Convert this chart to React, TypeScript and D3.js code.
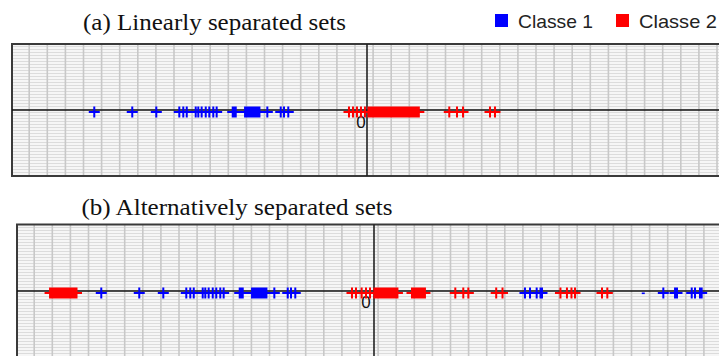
import React from "react";
import * as d3 from "d3";

// ---- Data ----
const classe1A: number[] = [
  -3.073, -2.645, -2.374,
  -2.115, -2.070, -2.031,
  -1.930, -1.901, -1.863, -1.817, -1.777, -1.732, -1.694,
  -1.513, -1.496, -1.479,
  -1.374, -1.360, -1.342, -1.331, -1.312, -1.296, -1.281, -1.262, -1.249, -1.236, -1.223, -1.212,
  -1.123, -0.972, -0.935, -0.887,
];
const classe2A: number[] = [
  -0.203, -0.158, -0.113, -0.068, -0.023,
  0.017, 0.031, 0.048, 0.062, 0.079, 0.093, 0.108, 0.126, 0.140, 0.155, 0.171, 0.188,
  0.203, 0.217, 0.234, 0.250, 0.266, 0.281, 0.297, 0.314, 0.329, 0.345, 0.362, 0.378,
  0.393, 0.409, 0.426, 0.441, 0.457, 0.473, 0.490, 0.505, 0.521, 0.538, 0.553, 0.569, 0.584,
  0.927, 1.014, 1.082, 1.386, 1.442,
];
const classe1B: number[] = [
  ...classe1A,
  1.701, 1.758, 1.833, 1.876, 1.893,
  3.260, 3.392, 3.414, 3.580, 3.617, 3.673, 3.692,
];
const classe1BFaint: number[] = [3.034];
const classe2B: number[] = [
  -3.650, -3.634, -3.617, -3.600, -3.584, -3.566, -3.551, -3.533, -3.518, -3.500,
  -3.484, -3.467, -3.451, -3.433, -3.417, -3.401, -3.384, -3.368, -3.352,
  -0.248, -0.203, -0.139, -0.090, -0.045,
  0.004, 0.020, 0.037, 0.053, 0.070, 0.086, 0.103, 0.119, 0.136, 0.152, 0.169, 0.185,
  0.202, 0.218, 0.235, 0.251, 0.264,
  0.428, 0.444, 0.461, 0.477, 0.494, 0.510, 0.527, 0.543, 0.560, 0.574,
  0.916, 1.006, 1.063, 1.377, 1.448,
  2.101, 2.174, 2.225, 2.265, 2.569, 2.629,
];
const titles = ["(a) Linearly separated sets", "(b) Alternatively separated sets"];
const legendLabels = ["Classe 1", "Classe 2"];
const xDomain: [number, number] = [-4, 4];

const BLUE = "#0000ff";
const RED = "#ff0000";

type PanelProps = {
  left: number;
  top: number;
  bottom: number;
  rangeStart: number;
  axisY: number;
  blue: number[];
  red: number[];
  faint?: number[];
  title: string;
  titleX: number;
  titleY: number;
  titleLen: number;
  zeroX: number;
  zeroY: number;
};

function plus(x: number, y: number, h = 5.5) {
  return `M${x - h},${y}H${x + h}M${x},${y - h}V${y + h}`;
}

function Panel(p: PanelProps) {
  const right = 740;
  const x = d3.scaleLinear().domain(xDomain).range([p.rangeStart, p.rangeStart + 710]);
  const hLines = d3.range(p.top + 2.5, p.bottom, 3);
  const vLines = d3.range(p.left + 17.2, right, 18.1);
  const my = p.axisY + 2;
  return (
    <g>
      <text
        x={p.titleX}
        y={p.titleY}
        textLength={p.titleLen}
        lengthAdjust="spacingAndGlyphs"
        fontFamily="'Liberation Serif', 'Times New Roman', serif"
        fontSize={23}
        fill="#111"
      >
        {p.title}
      </text>
      <rect x={p.left} y={p.top} width={right - p.left} height={p.bottom - p.top} fill="#f6f6f6" />
      {hLines.map((y, i) => (
        <line key={"h" + i} x1={p.left} x2={right} y1={y} y2={y} stroke="#dcdcdc" strokeWidth={1} shapeRendering="crispEdges" />
      ))}
      {vLines.map((vx, i) => (
        <line key={"v" + i} x1={vx} x2={vx} y1={p.top} y2={p.bottom} stroke="#c8c8c8" strokeWidth={1.6} />
      ))}
      <rect x={p.left} y={p.top} width={right - p.left} height={p.bottom - p.top} fill="none" stroke="#3a3a3a" strokeWidth={2} />
      <line x1={p.left} x2={right} y1={p.axisY} y2={p.axisY} stroke="#111" strokeWidth={1.6} />
      <line x1={x(0)} x2={x(0)} y1={p.top} y2={p.bottom} stroke="#222" strokeWidth={1.6} />
      <text x={p.zeroX} y={p.zeroY} textAnchor="middle" fontFamily="'Liberation Sans', Arial, sans-serif" fontSize={17} fill="#111">
        0
      </text>
      <path d={p.blue.map((v) => plus(x(v), my)).join("")} stroke={BLUE} strokeWidth={2} fill="none" />
      <path d={p.red.map((v) => plus(x(v), my)).join("")} stroke={RED} strokeWidth={2} fill="none" />
      {(p.faint || []).map((v, i) => (
        <rect key={"f" + i} x={x(v) - 1.5} y={my - 0.5} width={3} height={1.6} fill={BLUE} />
      ))}
    </g>
  );
}

export default function App() {
  return (
    <svg width={719} height={356} style={{ position: "absolute", left: 0, top: 0, background: "#fff" }}>
      <rect x={0} y={0} width={719} height={356} fill="#ffffff" />
      <Panel
        left={12}
        top={44}
        bottom={176}
        rangeStart={12}
        axisY={110}
        blue={classe1A}
        red={classe2A}
        title={titles[0]}
        titleX={83}
        titleY={30}
        titleLen={263}
        zeroX={361}
        zeroY={128}
      />
      <Panel
        left={17}
        top={224.5}
        bottom={370}
        rangeStart={19}
        axisY={291}
        blue={classe1B}
        red={classe2B}
        faint={classe1BFaint}
        title={titles[1]}
        titleX={81.5}
        titleY={215}
        titleLen={311}
        zeroX={366}
        zeroY={308}
      />
      <g fontFamily="'Liberation Sans', Arial, sans-serif" fontSize={19} fill="#222">
        <rect x={495} y={14} width={13} height={13} fill={BLUE} />
        <text x={518} y={27.5} textLength={75} lengthAdjust="spacingAndGlyphs">{legendLabels[0]}</text>
        <rect x={616} y={14} width={13} height={13} fill={RED} />
        <text x={639} y={27.5} textLength={78} lengthAdjust="spacingAndGlyphs">{legendLabels[1]}</text>
      </g>
    </svg>
  );
}
